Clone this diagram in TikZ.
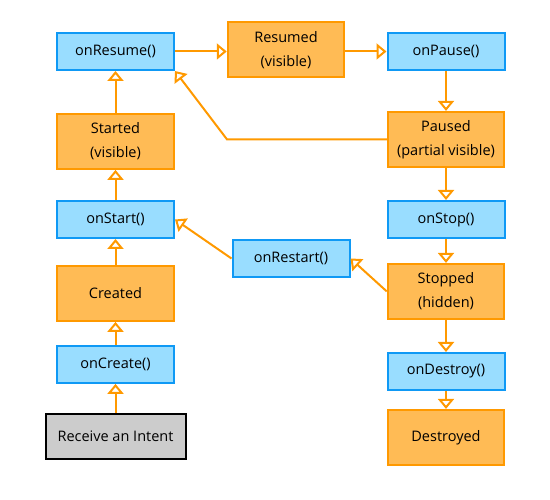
\documentclass[tikz,border=0pt]{standalone}
\usepackage{fontspec}
\setmainfont{Open Sans}
\usetikzlibrary{arrows.meta,calc}
\definecolor{bfill}{HTML}{99DDFF}
\definecolor{bdraw}{HTML}{0F99F5}
\definecolor{ofill}{HTML}{FFBB55}
\definecolor{odraw}{HTML}{FF9900}
\definecolor{gfill}{HTML}{CCCCCC}
\tikzset{
  base/.style={rectangle, line width=2pt, align=center, font=\fontsize{14.5}{24}\selectfont, text=black, inner sep=0pt},
  meth/.style={base, fill=bfill, draw=bdraw, minimum width=117pt, minimum height=37pt},
  state/.style={base, fill=ofill, draw=odraw, minimum width=116.5pt, minimum height=55pt},
  start/.style={base, fill=gfill, draw=black, minimum width=140pt, minimum height=45pt},
  flow/.style={draw=odraw, line width=2pt, -{Triangle[length=10pt,width=16pt,fill=white,line width=2pt]}},
}
\begin{document}
\begin{tikzpicture}[x=1pt,y=-1pt]
\useasboundingbox (0,0) rectangle (550,500);
\node[meth]  (onResume)  at (115.5,51.5)  {onResume()};
\node[state] (resumed)   at (286,49.7)  {Resumed\\(visible)};
\node[meth]  (onPause)   at (446,51.5)  {onPause()};
\node[state] (started)   at (115.5,141.4) {Started\\(visible)};
\node[state] (paused)    at (446,139.4) {Paused\\(partial visible)};
\node[meth]  (onStart)   at (115.5,219.5) {onStart()};
\node[meth]  (onStop)    at (446,219.5) {onStop()};
\node[meth]  (onRestart) at (291,258.5) {onRestart()};
\node[state] (created)   at (115.5,293.4) {Created};
\node[state] (stopped)   at (446,291.4) {Stopped\\(hidden)};
\node[meth]  (onCreate)  at (115.5,364.4) {onCreate()};
\node[meth]  (onDestroy) at (446,371.5) {onDestroy()};
\node[start] (intent)    at (115.5,436.4) {Receive an Intent};
\node[state] (destroyed) at (446,437.4) {Destroyed};

\coordinate (bend) at (227,0);

\draw[flow] (onResume.east) -- (onResume.east -| resumed.west);
\draw[flow] (onPause.west -| resumed.east) -- (onPause.west);
\draw[flow] (onPause.south) -- (paused.north);
\draw[flow] (paused.south) -- (onStop.north);
\draw[flow] (onStop.south) -- (stopped.north);
\draw[flow] (stopped.south) -- (onDestroy.north);
\draw[flow] (onDestroy.south) -- (destroyed.north);
\draw[flow] (intent.north) -- (onCreate.south);
\draw[flow] (onCreate.north) -- (created.south);
\draw[flow] (created.north) -- (onStart.south);
\draw[flow] (onStart.north) -- (started.south);
\draw[flow] (started.north) -- (onResume.south);
\draw[flow] (paused.west) -- (paused.west -| bend) -- (onResume.south east);
\draw[flow] (stopped.west) -- (onRestart.east);
\draw[flow] (onRestart.west) -- (onStart.east);
\end{tikzpicture}
\end{document}
